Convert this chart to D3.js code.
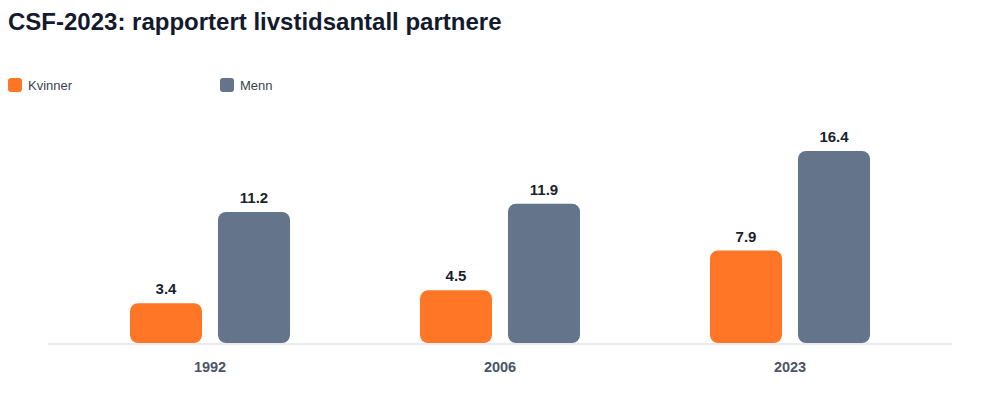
<!DOCTYPE html>
<html><head><meta charset="utf-8">
<script src="https://cdn.jsdelivr.net/npm/d3@7"></script>
<style>body{margin:0;background:#fff;font-family:"Liberation Sans",Arial,sans-serif;}</style>
</head><body><div id="chart"></div>
<script>
const title = "CSF-2023: rapportert livstidsantall partnere";
const categories = ["1992", "2006", "2023"];
const seriesNames = ["Kvinner", "Menn"];
const kvinner = [3.4, 4.5, 7.9];
const menn = [11.2, 11.9, 16.4];
const colors = ["#ff7626", "#64748b"];

const W = 1000, H = 400;
const svg = d3.select("#chart").append("svg").attr("width", W).attr("height", H);

svg.append("text").attr("x", 8).attr("y", 30).text(title)
  .attr("font-size", 24).attr("font-weight", "bold").attr("fill", "#141a2e");

// legend
const legX = [8, 220];
seriesNames.forEach((n, i) => {
  svg.append("rect").attr("x", legX[i]).attr("y", 78).attr("width", 14).attr("height", 14)
    .attr("rx", 3).attr("fill", colors[i]);
  svg.append("text").attr("x", legX[i] + 20).attr("y", 89.5).text(n)
    .attr("font-size", 13).attr("fill", "#3c4350");
});

const x = d3.scaleBand().domain(categories).range([65, 935]);
const xs = d3.scaleBand().domain(seriesNames).range([x.bandwidth()/2 - 80, x.bandwidth()/2 + 80]).paddingInner(16/88);
const y = d3.scaleLinear().domain([0, 16.4]).range([343, 151]);

// baseline
svg.append("line").attr("x1", 48).attr("x2", 952).attr("y1", 344).attr("y2", 344)
  .attr("stroke", "#e2e5ea").attr("stroke-width", 1.5);

const data = categories.map((c, i) => ({c, vals: [kvinner[i], menn[i]]}));
const g = svg.selectAll("g.grp").data(data).join("g").attr("transform", d => `translate(${x(d.c)},0)`);
g.selectAll("rect").data(d => d.vals.map((v, j) => ({v, s: seriesNames[j], j}))).join("rect")
  .attr("x", d => xs(d.s)).attr("width", xs.bandwidth())
  .attr("y", d => y(d.v)).attr("height", d => y(0) - y(d.v))
  .attr("rx", 8).attr("fill", d => colors[d.j]);
g.selectAll("text.val").data(d => d.vals.map((v, j) => ({v, s: seriesNames[j]}))).join("text")
  .attr("class", "val")
  .attr("x", d => xs(d.s) + xs.bandwidth()/2).attr("y", d => y(d.v) - 9)
  .attr("text-anchor", "middle").attr("font-size", 15).attr("font-weight", "bold")
  .attr("fill", "#1a1f2e").text(d => d.v.toFixed(1));

// x axis labels
const ax = svg.append("g").attr("transform", "translate(0,344)")
  .call(d3.axisBottom(x).tickSize(0).tickPadding(18));
ax.select(".domain").remove();
ax.selectAll("text").attr("font-size", 14.5).attr("font-weight", "bold").attr("fill", "#4a5466")
  .attr("font-family", "Liberation Sans, Arial, sans-serif");
</script></body></html>
